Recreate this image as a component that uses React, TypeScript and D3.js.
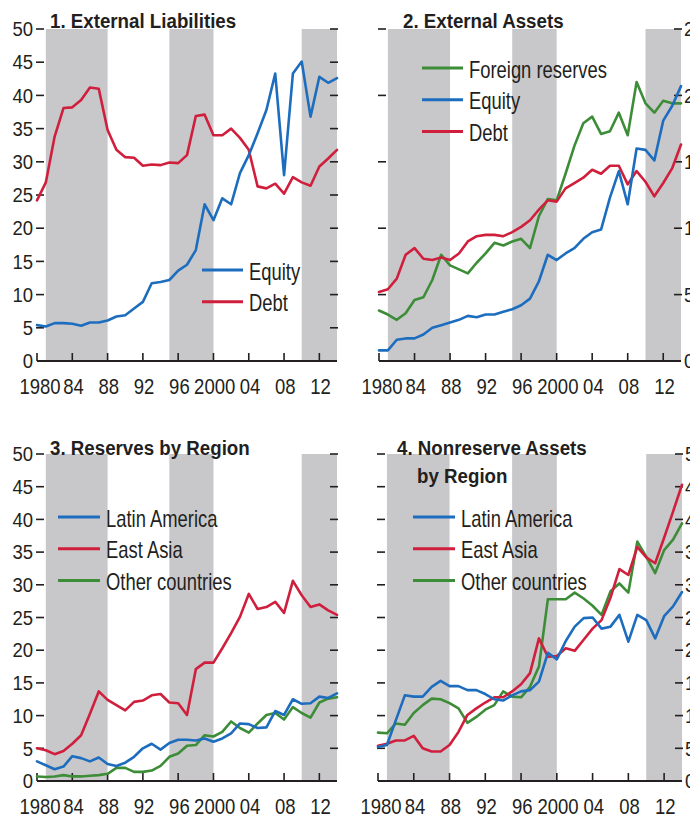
import React from 'react';
import * as d3 from 'd3';

// Years on the horizontal axis (annual observations)
const years = [
  1980, 1981, 1982, 1983, 1984, 1985, 1986, 1987, 1988, 1989,
  1990, 1991, 1992, 1993, 1994, 1995, 1996, 1997, 1998, 1999,
  2000, 2001, 2002, 2003, 2004, 2005, 2006, 2007, 2008, 2009,
  2010, 2011, 2012, 2013, 2014,
];
const xTickYears = [1980, 1984, 1988, 1992, 1996, 2000, 2004, 2008, 2012];
const xTickLabels = ['1980', '84', '88', '92', '96', '2000', '04', '08', '12'];
const shadedPeriods: [number, number][] = [[1981, 1988], [1995, 2000], [2010, 2014]];
const yTicks50 = [0, 5, 10, 15, 20, 25, 30, 35, 40, 45, 50];
const yTicks25 = [0, 5, 10, 15, 20, 25];

// 1. External liabilities
const liabEquity = [5.4, 5.2, 5.7, 5.7, 5.6, 5.3, 5.8, 5.8, 6.1, 6.7, 6.9, 7.9, 8.9, 11.7, 11.9, 12.2, 13.6, 14.5, 16.7, 23.6, 21.2, 24.5, 23.6, 28.3, 31.0, 34.3, 37.8, 43.3, 28.0, 43.3, 45.1, 36.8, 42.8, 41.9, 42.6];
const liabDebt = [24.2, 26.9, 33.8, 38.1, 38.2, 39.3, 41.2, 41.0, 34.8, 31.8, 30.7, 30.6, 29.4, 29.6, 29.5, 29.9, 29.8, 31.0, 36.9, 37.1, 34.0, 34.0, 35.0, 33.6, 31.8, 26.3, 26.0, 26.7, 25.2, 27.7, 26.9, 26.4, 29.3, 30.5, 31.8];

// 2. External assets
const assetReserves = [3.8, 3.5, 3.1, 3.6, 4.6, 4.8, 6.1, 8.0, 7.2, 6.9, 6.6, 7.4, 8.1, 8.9, 8.7, 9.0, 9.2, 8.5, 10.9, 12.2, 12.1, 14.1, 16.2, 17.9, 18.4, 17.1, 17.3, 18.7, 17.0, 21.0, 19.4, 18.7, 19.6, 19.4, 19.4];
const assetEquity = [0.8, 0.8, 1.6, 1.7, 1.7, 2.0, 2.5, 2.7, 2.9, 3.1, 3.4, 3.3, 3.5, 3.5, 3.7, 3.9, 4.2, 4.7, 6.0, 8.0, 7.6, 8.1, 8.5, 9.2, 9.7, 9.9, 12.3, 14.3, 11.8, 16.0, 15.9, 15.1, 18.1, 19.2, 20.7];
const assetDebt = [5.2, 5.4, 6.2, 8.0, 8.5, 7.7, 7.6, 7.8, 7.6, 8.1, 9.0, 9.4, 9.5, 9.5, 9.4, 9.7, 10.1, 10.6, 11.4, 12.1, 12.0, 13.0, 13.4, 13.8, 14.4, 14.1, 14.7, 14.7, 13.3, 14.3, 13.5, 12.4, 13.4, 14.5, 16.3];

// 3. Reserves by region
const resLatinAmerica = [3.0, 2.4, 1.8, 2.2, 3.8, 3.5, 3.0, 3.6, 2.6, 2.3, 2.8, 3.7, 5.0, 5.7, 4.8, 5.8, 6.3, 6.3, 6.2, 6.5, 6.0, 6.5, 7.3, 8.8, 8.7, 8.1, 8.2, 10.7, 10.1, 12.5, 11.8, 11.9, 12.9, 12.7, 13.4];
const resEastAsia = [5.0, 4.7, 4.1, 4.6, 5.7, 7.0, 10.3, 13.7, 12.4, 11.6, 10.8, 12.1, 12.3, 13.1, 13.3, 12.0, 11.9, 10.1, 17.1, 18.1, 18.1, 20.3, 22.6, 25.1, 28.6, 26.3, 26.6, 27.4, 25.7, 30.6, 28.4, 26.6, 27.0, 26.1, 25.4];
const resOther = [0.7, 0.6, 0.7, 0.9, 0.7, 0.7, 0.8, 0.9, 1.1, 2.0, 2.0, 1.4, 1.4, 1.6, 2.3, 3.7, 4.2, 5.4, 5.5, 7.0, 6.8, 7.5, 9.1, 8.1, 7.4, 8.8, 10.1, 10.4, 9.4, 11.3, 10.4, 9.7, 12.0, 12.6, 12.8];

// 4. Nonreserve assets by region
const nrLatinAmerica = [5.2, 5.5, 9.3, 13.1, 12.9, 12.9, 14.4, 15.3, 14.5, 14.5, 13.9, 13.9, 13.3, 12.5, 12.3, 13.1, 13.7, 13.9, 15.2, 19.6, 18.6, 21.4, 23.6, 24.9, 25.0, 23.3, 23.6, 25.4, 21.3, 25.4, 24.6, 21.8, 25.2, 26.7, 28.9];
const nrEastAsia = [5.4, 5.7, 6.2, 6.2, 6.9, 5.0, 4.5, 4.5, 5.5, 7.5, 10.1, 11.1, 12.0, 12.8, 12.8, 13.7, 14.8, 16.5, 21.8, 19.0, 19.1, 20.3, 19.9, 21.6, 23.3, 24.6, 28.0, 32.4, 31.5, 35.8, 34.2, 33.3, 37.2, 41.2, 45.3];
const nrOther = [7.4, 7.3, 8.8, 8.6, 10.4, 11.6, 12.6, 12.5, 11.9, 11.1, 8.9, 9.8, 10.9, 11.6, 13.7, 12.9, 12.8, 14.4, 17.5, 27.8, 27.8, 27.8, 28.8, 27.9, 26.8, 25.4, 29.0, 30.2, 28.8, 36.6, 34.3, 31.8, 35.3, 36.9, 39.4];

const BLUE = '#1d6dbf';
const RED = '#d01f3d';
const GREEN = '#3d8d38';
const BAND = '#c8c8ca';
const INK = '#231f20';

const SANS = "'Liberation Sans', Arial, Helvetica, sans-serif";

// Horizontally compressed text (the typeface of the figure is a condensed grotesque)
function CText({
  x, y, size, sx, anchor = 'start', bold = false, children,
}: {
  x: number; y: number; size: number; sx: number;
  anchor?: 'start' | 'middle' | 'end'; bold?: boolean; children: React.ReactNode;
}) {
  return (
    <text
      transform={`translate(${x},${y}) scale(${sx},1)`}
      textAnchor={anchor}
      fontFamily={SANS}
      fontWeight={bold ? 'bold' : 'normal'}
      fontSize={size}
      fill={INK}
    >
      {children}
    </text>
  );
}

type Series = { name: string; values: number[]; color: string };
type PanelSpec = {
  title: string[];
  titleX: number[];
  titleY: number[];
  left: number;
  right: number;
  top: number;
  bottom: number;
  yMax: number;
  yTicks: number[];
  labelSide: 'left' | 'right';
  legend: Series[];
  drawOrder: Series[];
  legendX0: number;
  legendX1: number;
  legendY: number;
};

const sLiabEquity = { name: 'Equity', values: liabEquity, color: BLUE };
const sLiabDebt = { name: 'Debt', values: liabDebt, color: RED };
const sAssetRes = { name: 'Foreign reserves', values: assetReserves, color: GREEN };
const sAssetEq = { name: 'Equity', values: assetEquity, color: BLUE };
const sAssetDebt = { name: 'Debt', values: assetDebt, color: RED };
const sResLA = { name: 'Latin America', values: resLatinAmerica, color: BLUE };
const sResEA = { name: 'East Asia', values: resEastAsia, color: RED };
const sResOth = { name: 'Other countries', values: resOther, color: GREEN };
const sNrLA = { name: 'Latin America', values: nrLatinAmerica, color: BLUE };
const sNrEA = { name: 'East Asia', values: nrEastAsia, color: RED };
const sNrOth = { name: 'Other countries', values: nrOther, color: GREEN };

const panels: PanelSpec[] = [
  {
    title: ['1. External Liabilities'], titleX: [50], titleY: [28],
    left: 37, right: 337, top: 29, bottom: 361, yMax: 50, yTicks: yTicks50, labelSide: 'left',
    legend: [sLiabEquity, sLiabDebt], drawOrder: [sLiabDebt, sLiabEquity],
    legendX0: 202, legendX1: 243, legendY: 270,
  },
  {
    title: ['2. External Assets'], titleX: [403], titleY: [28],
    left: 379, right: 681, top: 29, bottom: 361, yMax: 25, yTicks: yTicks25, labelSide: 'right',
    legend: [sAssetRes, sAssetEq, sAssetDebt], drawOrder: [sAssetRes, sAssetDebt, sAssetEq],
    legendX0: 422, legendX1: 463, legendY: 68,
  },
  {
    title: ['3. Reserves by Region'], titleX: [50], titleY: [455],
    left: 37, right: 337, top: 454, bottom: 781, yMax: 50, yTicks: yTicks50, labelSide: 'left',
    legend: [sResLA, sResEA, sResOth], drawOrder: [sResOth, sResEA, sResLA],
    legendX0: 58, legendX1: 100, legendY: 517,
  },
  {
    title: ['4. Nonreserve Assets', 'by Region'], titleX: [397, 417], titleY: [455, 483],
    left: 378, right: 682, top: 454, bottom: 781, yMax: 50, yTicks: yTicks50, labelSide: 'right',
    legend: [sNrLA, sNrEA, sNrOth], drawOrder: [sNrOth, sNrEA, sNrLA],
    legendX0: 413, legendX1: 455, legendY: 517,
  },
];

function Panel({ p }: { p: PanelSpec }) {
  const x = d3.scaleLinear().domain([1980, 2014]).range([p.left, p.right]);
  const y = d3.scaleLinear().domain([0, p.yMax]).range([p.bottom, p.top]);
  const line = d3
    .line<number>()
    .x((_, i) => x(years[i]))
    .y((v) => y(v));
  const legendGap = 31.8;

  return (
    <g>
      {shadedPeriods.map(([a, b]) => (
        <rect key={a} x={x(a)} y={p.top} width={x(b) - x(a)} height={p.bottom - p.top} fill={BAND} />
      ))}

      {/* tick marks on both vertical edges */}
      {p.yTicks.filter((t) => t > 0).map((t) => (
        <g key={t}>
          <line x1={p.left - 1} x2={p.left + 7} y1={y(t)} y2={y(t)} stroke={INK} strokeWidth={1.6} />
          <line x1={p.right - 7} x2={p.right + 1} y1={y(t)} y2={y(t)} stroke={INK} strokeWidth={1.6} />
        </g>
      ))}

      {/* value labels on the outer edge */}
      {p.yTicks.map((t) => (
        <CText
          key={t}
          x={p.labelSide === 'left' ? p.left - 4 : p.right + 3}
          y={y(t) + 7.2}
          size={19.5}
          sx={0.95}
          anchor={p.labelSide === 'left' ? 'end' : 'start'}
        >
          {t}
        </CText>
      ))}

      {/* horizontal axis */}
      <line x1={p.left} x2={p.right} y1={p.bottom} y2={p.bottom} stroke={INK} strokeWidth={2} />
      {xTickYears.map((yr) => (
        <line key={yr} x1={x(yr)} x2={x(yr)} y1={p.bottom} y2={p.bottom - 8} stroke={INK} strokeWidth={1.6} />
      ))}
      {xTickYears.map((yr, i) => (
        <CText
          key={yr}
          x={x(yr) + (i === 0 ? 3 : 1.2)}
          y={p.bottom + 33}
          size={22.3}
          sx={0.83}
          anchor="middle"
        >
          {xTickLabels[i]}
        </CText>
      ))}

      {/* data */}
      {p.drawOrder.map((s) => (
        <path
          key={s.name}
          d={line(s.values) ?? ''}
          fill="none"
          stroke={s.color}
          strokeWidth={2.6}
          strokeLinejoin="round"
          strokeLinecap="round"
        />
      ))}

      {/* legend */}
      {p.legend.map((s, i) => (
        <g key={s.name}>
          <line
            x1={p.legendX0}
            x2={p.legendX1}
            y1={p.legendY + i * legendGap}
            y2={p.legendY + i * legendGap}
            stroke={s.color}
            strokeWidth={3}
          />
          <CText x={p.legendX1 + 6} y={p.legendY + i * legendGap + 9.5} size={23} sx={0.8}>
            {s.name}
          </CText>
        </g>
      ))}

      {/* title */}
      {p.title.map((t, i) => (
        <CText key={t} x={p.titleX[i]} y={p.titleY[i]} size={19.5} sx={0.96} bold>
          {t}
        </CText>
      ))}
    </g>
  );
}

export default function App() {
  return (
    <svg
      width={690}
      height={816}
      viewBox="0 0 690 816"
      style={{ position: 'absolute', left: 0, top: 0, background: '#fff' }}
    >
      <rect x={0} y={0} width={690} height={816} fill="#fff" />
      {panels.map((p, i) => (
        <Panel key={i} p={p} />
      ))}
    </svg>
  );
}
